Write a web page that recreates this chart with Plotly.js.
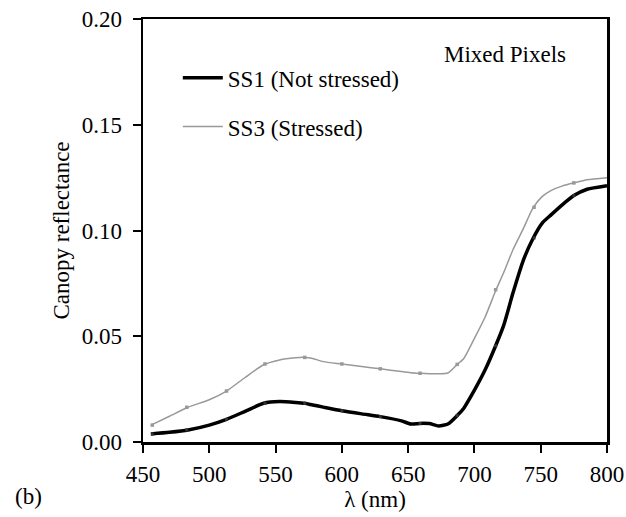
<!DOCTYPE html>
<html>
<head>
<meta charset="utf-8">
<script src="https://cdn.plot.ly/plotly-3.0.1.min.js"></script>
<style>html,body{margin:0;padding:0;background:#fff;}#chart{width:626px;height:517px;}</style>
</head>
<body>
<div id="chart"></div>
<script>
// Wavelength (nm) of the traced curve points
const wavelength = [456, 470, 484, 500, 513, 527, 541, 553, 565, 572, 578, 586, 600, 615, 629, 645, 652, 659, 666, 673, 680, 687, 692, 700, 708, 716, 722, 729, 737, 744, 751, 758, 766, 775, 785, 800];
// SS1 (Not stressed) canopy reflectance
const ss1 = [0.0038, 0.0046, 0.0057, 0.0080, 0.0107, 0.0145, 0.0183, 0.0191, 0.0187, 0.0183, 0.0175, 0.0165, 0.0148, 0.0133, 0.0120, 0.0100, 0.0085, 0.0088, 0.0087, 0.0076, 0.0085, 0.0125, 0.0160, 0.0245, 0.0340, 0.0455, 0.0550, 0.0703, 0.0861, 0.0960, 0.1034, 0.1075, 0.1120, 0.1165, 0.1195, 0.1212];
// SS3 (Stressed) canopy reflectance
const ss3 = [0.0080, 0.0122, 0.0164, 0.0200, 0.0241, 0.0305, 0.0365, 0.0388, 0.0398, 0.0400, 0.0395, 0.0380, 0.0369, 0.0357, 0.0346, 0.0333, 0.0328, 0.0325, 0.0323, 0.0323, 0.0326, 0.0367, 0.0395, 0.0490, 0.0590, 0.0715, 0.0800, 0.0908, 0.1010, 0.1105, 0.1160, 0.1190, 0.1210, 0.1225, 0.1240, 0.1250];
// Marker sample points
const markerWavelength = [457, 483, 513, 542, 572, 600, 629, 659, 687, 716, 745, 775];
const ss1Markers = [0.0038, 0.0057, 0.0107, 0.0183, 0.0183, 0.0148, 0.0120, 0.0088, 0.0125, 0.0455, 0.0965, 0.1165];
const ss3Markers = [0.0080, 0.0164, 0.0241, 0.0369, 0.0400, 0.0369, 0.0346, 0.0325, 0.0367, 0.0720, 0.1110, 0.1225];

const FONT = 'Liberation Serif';
const FS = 23;
const BLACK = '#000000';
const GRAY = '#999999';

const traces = [
  {x: wavelength, y: ss1, mode: 'lines', name: 'SS1 (Not stressed)', legendgroup: 'a',
   line: {color: BLACK, width: 3.5, shape: 'spline', smoothing: 0.6}},
  {x: wavelength, y: ss3, mode: 'lines', name: 'SS3 (Stressed)', legendgroup: 'b',
   line: {color: GRAY, width: 1.5, shape: 'spline', smoothing: 0.6}},
  {x: markerWavelength, y: ss1Markers, mode: 'markers', showlegend: false,
   marker: {symbol: 'square', size: 3, color: '#333333'}},
  {x: markerWavelength, y: ss3Markers, mode: 'markers', showlegend: false,
   marker: {symbol: 'square', size: 3.5, color: GRAY}}
];

const axisCommon = {
  showline: true, linecolor: BLACK, linewidth: 2.5, mirror: true,
  ticks: 'outside', ticklen: 8, tickwidth: 2, tickcolor: BLACK,
  showgrid: false, zeroline: false,
  tickfont: {family: FONT, size: FS, color: BLACK}
};

const layout = {
  width: 626, height: 517,
  margin: {l: 143, r: 19, t: 19, b: 75},
  paper_bgcolor: '#ffffff', plot_bgcolor: '#ffffff',
  font: {family: FONT, size: FS, color: BLACK},
  showlegend: true,
  legend: {x: 0.075, y: 0.912, xanchor: 'left', yanchor: 'top',
    bgcolor: 'rgba(0,0,0,0)', font: {family: FONT, size: FS, color: BLACK},
    traceorder: 'grouped', tracegroupgap: 16, itemwidth: 40},
  xaxis: Object.assign({}, axisCommon, {
    range: [450, 800], tickvals: [450, 500, 550, 600, 650, 700, 750, 800],
    ticklabelstandoff: 2,
    title: {text: 'λ (nm)', font: {family: FONT, size: FS, color: BLACK}, standoff: 5}
  }),
  yaxis: Object.assign({}, axisCommon, {
    range: [0, 0.2], tickvals: [0, 0.05, 0.1, 0.15, 0.2], tickformat: '.2f',
    ticklabelstandoff: 6,
    title: {text: 'Canopy reflectance', font: {family: FONT, size: FS, color: BLACK}, standoff: 6}
  }),
  annotations: [
    {text: 'Mixed Pixels', xref: 'paper', yref: 'paper', x: 0.915, y: 0.915,
     xanchor: 'right', yanchor: 'middle', showarrow: false,
     font: {family: FONT, size: FS, color: BLACK}},
    {text: '(b)', xref: 'paper', yref: 'paper', x: -0.28, y: -0.128,
     xanchor: 'left', yanchor: 'middle', showarrow: false,
     font: {family: FONT, size: FS, color: BLACK}}
  ]
};

Plotly.newPlot('chart', traces, layout, {displayModeBar: false, staticPlot: true});
</script>
</body>
</html>
